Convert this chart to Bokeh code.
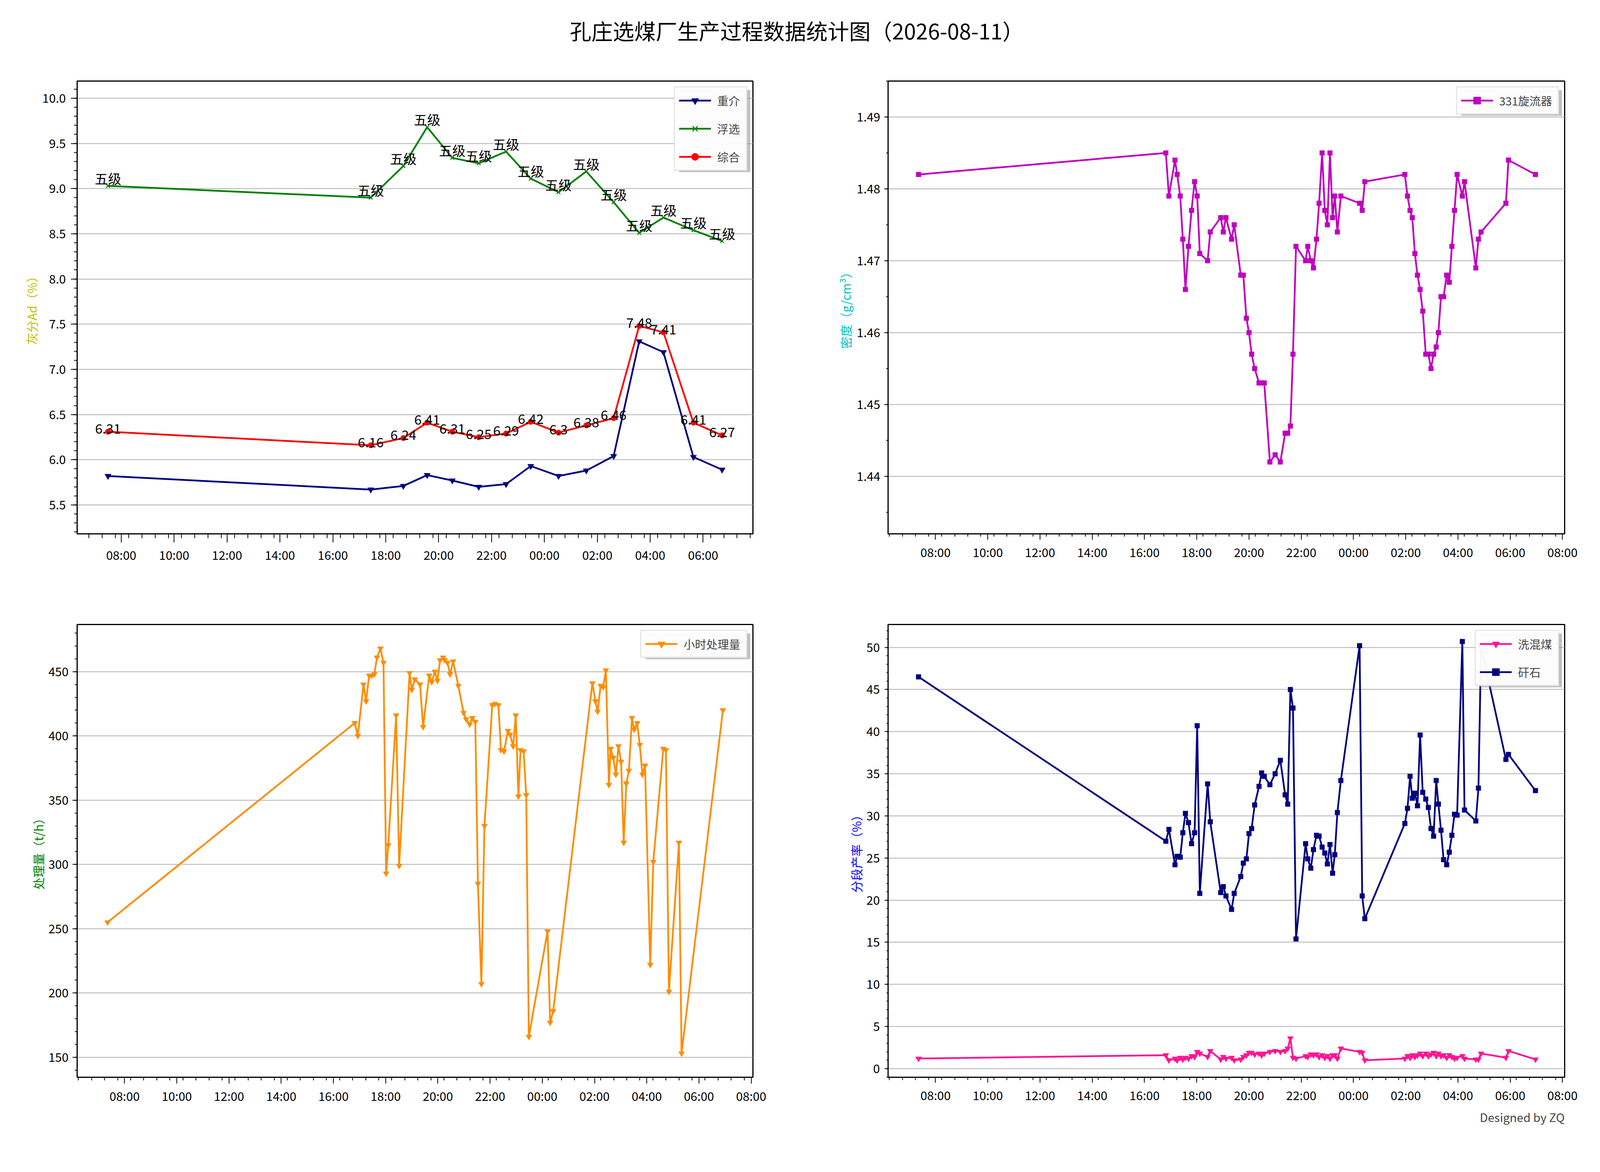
from datetime import datetime, timedelta

from bokeh.core.properties import value
from bokeh.embed import file_html
from bokeh.layouts import column, row
from bokeh.models import (BoxAnnotation, ColumnDataSource, DatetimeTickFormatter, Div,
                          FixedTicker, NumeralTickFormatter, Range1d, Title)
from bokeh.plotting import figure
from bokeh.resources import INLINE

FONT = "Noto Sans CJK SC"
TITLE = "孔庄选煤厂生产过程数据统计图（2026-08-11）"

# ---- 灰分 (hourly) ----
ash_times = ["07:30", "17:26", "18:40", "19:34", "20:31", "21:31", "22:33", "23:29",
             "00:32", "01:35", "02:37", "03:35", "04:30", "05:38", "06:43"]
ash_zj = [5.82, 5.67, 5.71, 5.83, 5.77, 5.70, 5.73, 5.93, 5.82, 5.88, 6.04, 7.31, 7.19, 6.03, 5.89]
ash_fx = [9.03, 8.90, 9.25, 9.68, 9.34, 9.28, 9.41, 9.11, 8.96, 9.19, 8.85, 8.51, 8.68, 8.54, 8.42]
ash_zh = [6.31, 6.16, 6.24, 6.41, 6.31, 6.25, 6.29, 6.42, 6.3, 6.38, 6.46, 7.48, 7.41, 6.41, 6.27]
fx_grade = ["五级", "五级", "五级", "五级", "五级", "五级", "五级", "五级",
            "五级", "五级", "五级", "五级", "五级", "五级", "五级"]

# ---- 密度 / 分段产率 (same sampling) ----
dens_times = ["07:21", "16:49", "16:56", "17:10", "17:15", "17:22", "17:28", "17:34", "17:41",
              "17:48", "17:55", "18:01", "18:07", "18:25", "18:31", "18:55", "19:01", "19:07",
              "19:20", "19:26", "19:41", "19:47", "19:54", "20:00", "20:06", "20:13", "20:23",
              "20:29", "20:35", "20:48", "21:00", "21:12", "21:23", "21:29", "21:35", "21:41",
              "21:48", "22:10", "22:15", "22:22", "22:28", "22:35", "22:41", "22:48", "22:54",
              "23:00", "23:06", "23:12", "23:17", "23:23", "23:31", "00:14", "00:20", "00:26",
              "01:58", "02:04", "02:10", "02:15", "02:21", "02:27", "02:33", "02:39", "02:46",
              "02:52", "02:58", "03:04", "03:10", "03:15", "03:21", "03:27", "03:34", "03:40",
              "03:46", "03:52", "03:58", "04:10", "04:15", "04:41", "04:47", "04:53", "05:50",
              "05:56", "06:58"]
dens_331 = [1.482, 1.485, 1.479, 1.484, 1.482, 1.479, 1.473, 1.466, 1.472,
            1.477, 1.481, 1.479, 1.471, 1.470, 1.474, 1.476, 1.474, 1.476,
            1.473, 1.475, 1.468, 1.468, 1.462, 1.460, 1.457, 1.455, 1.453,
            1.453, 1.453, 1.442, 1.443, 1.442, 1.446, 1.446, 1.447, 1.457,
            1.472, 1.470, 1.472, 1.470, 1.469, 1.473, 1.478, 1.485, 1.477,
            1.475, 1.485, 1.476, 1.479, 1.474, 1.479, 1.478, 1.477, 1.481,
            1.482, 1.479, 1.477, 1.476, 1.471, 1.468, 1.466, 1.463, 1.457,
            1.457, 1.455, 1.457, 1.458, 1.460, 1.465, 1.465, 1.468, 1.467,
            1.472, 1.477, 1.482, 1.479, 1.481, 1.469, 1.473, 1.474, 1.478,
            1.484, 1.482]
yield_xhm = [1.2, 1.6, 1.0, 1.2, 1.0, 1.3, 1.1, 1.3, 1.2,
             1.5, 1.4, 2.0, 1.8, 1.4, 2.1, 1.1, 1.4, 1.2,
             1.3, 1.0, 1.1, 1.4, 1.6, 1.9, 1.9, 1.7, 1.8,
             1.6, 1.8, 2.0, 2.1, 2.0, 2.1, 2.4, 3.6, 1.3,
             1.2, 1.5, 1.4, 1.7, 1.6, 1.7, 1.4, 1.6, 1.3,
             1.5, 1.2, 1.6, 1.6, 1.2, 2.4, 2.0, 1.9, 1.0,
             1.2, 1.5, 1.3, 1.6, 1.4, 1.6, 1.8, 1.5, 1.8,
             1.5, 1.7, 1.9, 1.5, 1.8, 1.5, 1.6, 1.3, 1.6,
             1.4, 1.2, 1.3, 1.5, 1.2, 1.1, 1.1, 1.8, 1.3,
             2.1, 1.1]
yield_gs = [46.5, 27.0, 28.4, 24.2, 25.2, 25.1, 28.0, 30.3, 29.2,
            26.7, 28.0, 40.7, 20.8, 33.8, 29.3, 20.9, 21.6, 20.5,
            18.9, 20.8, 22.8, 24.4, 24.9, 27.9, 28.5, 31.3, 33.5,
            35.1, 34.7, 33.7, 35.0, 36.6, 32.5, 31.4, 45.0, 42.8,
            15.4, 26.7, 24.9, 23.8, 26.0, 27.7, 27.6, 26.3, 25.6,
            24.3, 26.6, 23.2, 25.4, 30.4, 34.2, 50.2, 20.5, 17.8,
            29.1, 30.9, 34.7, 32.1, 32.7, 31.2, 39.6, 32.8, 32.0,
            31.0, 28.5, 27.6, 34.2, 31.4, 28.3, 24.8, 24.2, 25.7,
            27.7, 30.2, 30.1, 50.7, 30.7, 29.4, 33.3, 50.1, 36.7,
            37.3, 33.0]

# ---- 小时处理量 ----
flow_times = ["07:21", "16:49", "16:56", "17:09", "17:15", "17:22", "17:28", "17:34", "17:40",
              "17:48", "17:55", "18:01", "18:06", "18:24", "18:31", "18:55", "19:00", "19:07",
              "19:19", "19:26", "19:40", "19:46", "19:53", "19:59", "20:05", "20:12", "20:16",
              "20:22", "20:28", "20:35", "20:47", "20:59", "21:05", "21:13", "21:19", "21:26",
              "21:32", "21:40", "21:47", "22:05", "22:11", "22:19", "22:25", "22:32", "22:41",
              "22:46", "22:53", "22:59", "23:05", "23:10", "23:17", "23:23", "23:29", "00:12",
              "00:18", "00:25", "01:55", "02:02", "02:07", "02:14", "02:20", "02:26", "02:33",
              "02:37", "02:43", "02:49", "02:55", "03:01", "03:07", "03:13", "03:19", "03:26",
              "03:31", "03:38", "03:44", "03:50", "03:56", "04:08", "04:15", "04:38", "04:44",
              "04:51", "05:14", "05:20", "06:55"]
flow_tph = [255, 410, 400, 440, 427, 447, 447, 448, 461,
            468, 457, 293, 315, 416, 299, 449, 436, 444,
            440, 407, 447, 442, 450, 443, 459, 461, 459,
            457, 448, 458, 439, 418, 413, 409, 414, 411,
            285, 207, 330, 424, 425, 424, 389, 388, 404,
            401, 392, 416, 353, 389, 388, 354, 166, 248,
            177, 186, 441, 427, 419, 439, 438, 451, 362,
            390, 383, 370, 392, 380, 317, 363, 373, 414,
            405, 410, 393, 370, 377, 222, 302, 390, 389,
            201, 317, 153, 420]

EPOCH = datetime(1970, 1, 1)


def to_dt(hhmm):
    h, m = map(int, hhmm.split(":"))
    day = 10 if h >= 7 else 11
    return datetime(2026, 8, day, h, m)


def ms(dt):
    return (dt - EPOCH).total_seconds() * 1000


def x_ticker(minor_offset):
    base = datetime(2026, 8, 10, 6, 0)
    major = [ms(base + timedelta(hours=2 * i)) for i in range(14)]
    minor = [ms(base + timedelta(minutes=minor_offset + 30 * i)) for i in range(-2, 56)]
    return FixedTicker(ticks=major, minor_ticks=minor)


def y_ticker(lo, hi, step, nminor):
    n = int(round((hi - lo) / step))
    major = [lo + i * step for i in range(n + 1)]
    sub = step / nminor
    minor = [lo - step + i * sub for i in range((n + 2) * nminor + 1)]
    return FixedTicker(ticks=major, minor_ticks=minor)


LW = 4.5          # series line width
LG_MARGIN, LG_PAD, LG_SPACE, LG_ROW = 14, 10, 26, 46
LG_GLYPH, LG_STAND = 82, 16


def panel(width, height, borders, xr, yr, yticker, yfmt, ylabel, ycolor,
          xtick, ytick, ylab_gap, axlab_gap, minor_offset):
    left, right, top, bottom = borders
    p = figure(width=width, height=height, x_axis_type="datetime",
               x_range=Range1d(*xr), y_range=Range1d(*yr),
               output_backend="svg", toolbar_location=None,
               min_border_left=left, min_border_right=right,
               min_border_top=top, min_border_bottom=bottom)
    p.outline_line_color = "black"
    p.outline_line_width = 3
    p.outline_line_alpha = 1
    p.xgrid.visible = False
    p.ygrid.grid_line_color = "#b0b0b0"
    p.ygrid.grid_line_width = 2

    p.xaxis.ticker = x_ticker(minor_offset)
    p.xaxis.formatter = DatetimeTickFormatter(minutes="%H:%M", hourmin="%H:%M",
                                              hours="%H:%M", days="%H:%M")
    p.yaxis.ticker = yticker
    p.yaxis.formatter = NumeralTickFormatter(format=yfmt)
    for ax, tl in ((p.xaxis[0], xtick), (p.yaxis[0], ytick)):
        ax.axis_line_width = 3
        ax.major_tick_line_width = 2
        ax.minor_tick_line_width = 2
        ax.major_tick_in = 0
        ax.minor_tick_in = 0
        ax.major_tick_out = tl
        ax.minor_tick_out = tl // 2
        ax.major_label_text_font = FONT
        ax.major_label_text_font_size = "31px"
        ax.major_label_text_color = "black"
    p.xaxis.major_label_standoff = 8
    p.yaxis.major_label_standoff = ylab_gap
    p.yaxis.axis_label = ylabel
    p.yaxis.axis_label_text_font = FONT
    p.yaxis.axis_label_text_font_size = "31px"
    p.yaxis.axis_label_text_font_style = "normal"
    p.yaxis.axis_label_text_color = ycolor
    p.yaxis.axis_label_standoff = axlab_gap
    return p


def style_legend(p, xr, yr, frame, label_w, n):
    lg = p.legend[0]
    lg.location = "top_right"
    lg.margin = LG_MARGIN
    lg.padding = LG_PAD
    lg.spacing = LG_SPACE
    lg.label_text_font = FONT
    lg.label_text_font_size = "29px"
    lg.label_standoff = LG_STAND
    lg.label_width = label_w
    lg.glyph_width = LG_GLYPH
    lg.glyph_height = LG_ROW
    lg.label_height = LG_ROW
    lg.border_line_color = "#cccccc"
    lg.border_line_width = 3
    lg.background_fill_alpha = 0.95

    # drop shadow behind the legend box (pixel offsets turned into data units)
    fw, fh = frame
    w = 2 * LG_PAD + LG_GLYPH + LG_STAND + label_w
    h = 2 * LG_PAD + n * LG_ROW + (n - 1) * LG_SPACE
    x0, x1 = ms(xr[0]), ms(xr[1])
    dx = (x1 - x0) / fw
    dy = (yr[1] - yr[0]) / fh
    right_px = fw - LG_MARGIN + 7
    top_px = LG_MARGIN + 9
    p.add_layout(BoxAnnotation(left=x0 + (right_px - w) * dx, right=x0 + right_px * dx,
                               top=yr[1] - top_px * dy, bottom=yr[1] - (top_px + h) * dy,
                               fill_color="#8c8c8c", fill_alpha=0.55, line_color=None,
                               level="glyph"))


LEFT_B = (197, 112)
RIGHT_B = (234, 75)
TOP_B = (53, 131)
BOT_B = (101, 299)
W_L, W_R = 2039, 2041
H_T, H_B = 1343, 1559
FR_L = W_L - LEFT_B[0] - LEFT_B[1]
FR_R = W_R - RIGHT_B[0] - RIGHT_B[1]
FR_T = H_T - TOP_B[0] - TOP_B[1]
FR_B = H_B - BOT_B[0] - BOT_B[1]

# top-left: 灰分
ash = ColumnDataSource(dict(t=[to_dt(s) for s in ash_times], zj=ash_zj, fx=ash_fx, zh=ash_zh,
                            grade=fx_grade, zh_txt=[f"{v:g}" for v in ash_zh]))
xr1 = (datetime(2026, 8, 10, 6, 20), datetime(2026, 8, 11, 7, 53))
yr1 = (5.18, 10.19)
p1 = panel(W_L, H_T, LEFT_B + TOP_B, xr1, yr1,
           y_ticker(5.5, 10.0, 0.5, 5), "0.0", "灰分Ad（%）", "#bfbf00", 22, 16, 13, 2, 17)
p1.line("t", "zj", source=ash, color="navy", line_width=LW, legend_label="重介")
p1.scatter("t", "zj", source=ash, marker="inverted_triangle", size=16, color="navy",
           legend_label="重介")
p1.line("t", "fx", source=ash, color="green", line_width=LW, legend_label="浮选")
p1.scatter("t", "fx", source=ash, marker="x", size=13, line_width=2.5, color="green",
           legend_label="浮选")
p1.line("t", "zh", source=ash, color="red", line_width=LW, legend_label="综合")
p1.scatter("t", "zh", source=ash, marker="circle", size=14, color="red", legend_label="综合")
p1.text("t", "fx", text="grade", source=ash, text_align="center", text_baseline="bottom",
        text_font=value(FONT), text_font_size="34px", text_color="black", y_offset=5)
p1.text("t", "zh", text="zh_txt", source=ash, text_align="center", text_baseline="bottom",
        text_font=value(FONT), text_font_size="34px", text_color="black", y_offset=5)
style_legend(p1, xr1, yr1, (FR_L, FR_T), 64, 3)

# top-right: 密度
dens = ColumnDataSource(dict(t=[to_dt(s) for s in dens_times], d=dens_331,
                             xhm=yield_xhm, gs=yield_gs))
xr2 = (datetime(2026, 8, 10, 6, 11), datetime(2026, 8, 11, 8, 5))
yr2 = (1.432, 1.495)
p2 = panel(W_R, H_T, RIGHT_B + TOP_B, xr2, yr2,
           y_ticker(1.44, 1.49, 0.01, 2), "0.00", "密度（g/cm³）", "#00bfbf", 15, 10, 10, 3, 14)
p2.line("t", "d", source=dens, color="#bf00bf", line_width=LW, legend_label="331旋流器")
p2.scatter("t", "d", source=dens, marker="square", size=12, color="#bf00bf",
           legend_label="331旋流器")
style_legend(p2, xr2, yr2, (FR_R, FR_T), 140, 1)

# bottom-left: 小时处理量
flow = ColumnDataSource(dict(t=[to_dt(s) for s in flow_times], q=flow_tph))
xr3 = (datetime(2026, 8, 10, 6, 11), datetime(2026, 8, 11, 8, 4))
yr3 = (134.4, 486.7)
p3 = panel(W_L, H_B, LEFT_B + BOT_B, xr3, yr3,
           y_ticker(150, 450, 50, 5), "0", "处理量（t/h）", "green", 16, 12, 10, 1, 14)
p3.line("t", "q", source=flow, color="darkorange", line_width=LW, legend_label="小时处理量")
p3.scatter("t", "q", source=flow, marker="inverted_triangle", size=15, color="darkorange",
           legend_label="小时处理量")
style_legend(p3, xr3, yr3, (FR_L, FR_B), 150, 1)

# bottom-right: 分段产率
xr4 = (datetime(2026, 8, 10, 6, 11), datetime(2026, 8, 11, 8, 5))
yr4 = (-1.02, 52.72)
p4 = panel(W_R, H_B, RIGHT_B + BOT_B, xr4, yr4,
           y_ticker(0, 50, 5, 5), "0", "分段产率（%）", "blue", 14, 9, 12, 1, 14)
p4.line("t", "xhm", source=dens, color="deeppink", line_width=LW, legend_label="洗混煤")
p4.scatter("t", "xhm", source=dens, marker="inverted_triangle", size=15, color="deeppink",
           legend_label="洗混煤")
p4.line("t", "gs", source=dens, color="navy", line_width=LW, legend_label="矸石")
p4.scatter("t", "gs", source=dens, marker="square", size=12, color="navy", legend_label="矸石")
style_legend(p4, xr4, yr4, (FR_R, FR_B), 92, 2)
p4.add_layout(Title(text="Designed by ZQ", align="right", text_font=FONT,
                    text_font_size="30px", text_font_style="normal", standoff=14), "below")

head = Div(text=f"<div style=\"width:4080px;text-align:center;font-family:'{FONT}';"
                f"font-size:55px;line-height:154px;color:black\">{TITLE}</div>",
           width=4080, height=154, margin=0)

layout = column(head, row(p1, p2), row(p3, p4))
open("out.html", "w").write(file_html(layout, INLINE))
